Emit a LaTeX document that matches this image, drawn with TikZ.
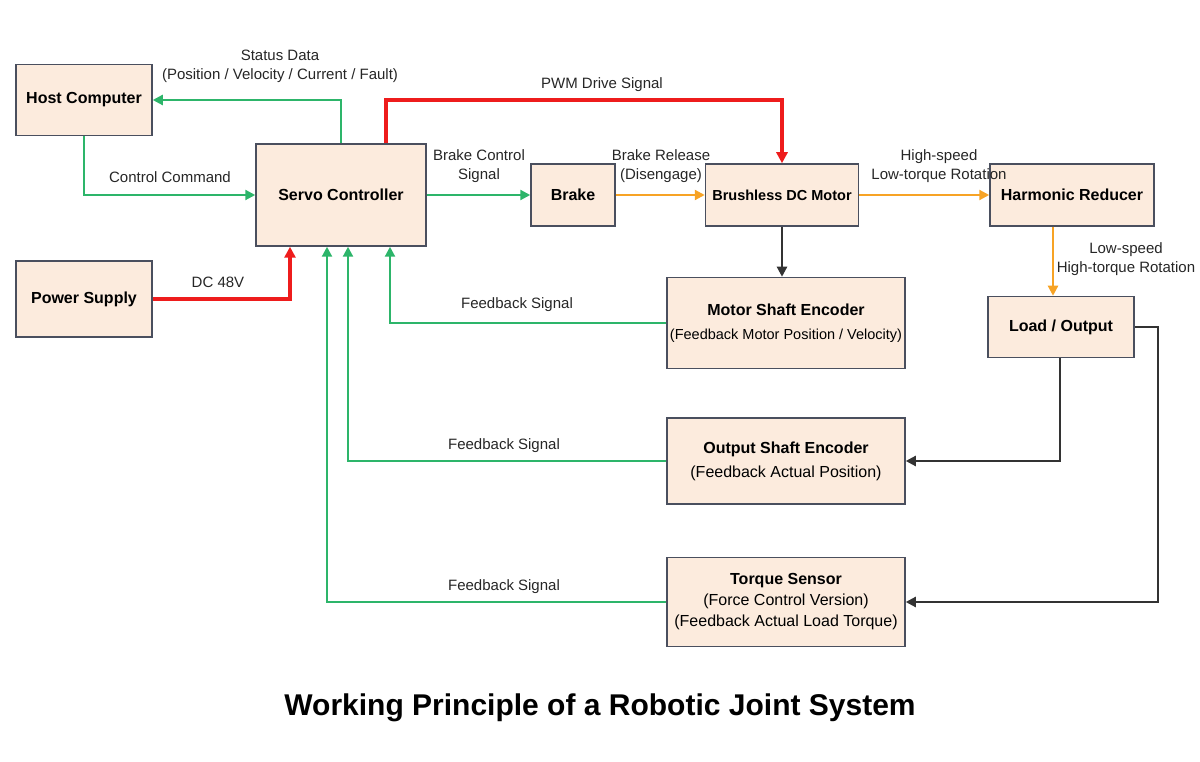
\documentclass[tikz,border=0pt]{standalone}
\usepackage{fontspec}
\setmainfont{Liberation Sans}
\usetikzlibrary{arrows.meta}
\definecolor{boxfill}{HTML}{FCEBDD}
\definecolor{boxline}{HTML}{4A4F5E}
\definecolor{sig}{HTML}{2DB56A}
\definecolor{pwr}{HTML}{EE1C1C}
\definecolor{mech}{HTML}{F7A325}
\definecolor{dark}{HTML}{333333}
\tikzset{
	block/.style={draw=boxline,line width=1.5pt,fill=boxfill,align=center,inner sep=0pt,font=\fontsize{16}{20}\selectfont},
	green line/.style={draw=sig,line width=2.2pt,-{Triangle[length=10pt,width=10pt]}},
	red line/.style={draw=pwr,line width=3.2pt,-{Triangle[length=11pt,width=11pt]}},
	orange line/.style={draw=mech,line width=2.2pt,-{Triangle[length=10pt,width=10pt]}},
	dark line/.style={draw=dark,line width=2.2pt,-{Triangle[length=10pt,width=10pt]}},
	lbl/.style={font=\fontsize{15}{19}\selectfont,align=center,text=black!85}
}
\begin{document}
\begin{tikzpicture}[x=1pt,y=-1pt]
	\useasboundingbox (0,0) rectangle (1200,762);

	% blocks
	\node[block,minimum width=136pt,minimum height=71pt] (host)  at (84,100)   {\textbf{Host Computer}};
	\node[block,minimum width=170pt,minimum height=102pt] (servo) at (341,195) {\textbf{Servo Controller}};
	\node[block,minimum width=136pt,minimum height=76pt] (power) at (84,299)   {\textbf{Power Supply}};
	\node[block,minimum width=84pt,minimum height=62pt]  (brake) at (573,195)  {\textbf{Brake}};
	\node[block,minimum width=153pt,minimum height=62pt,font=\fontsize{14.5}{18}\selectfont] (motor) at (782,195)  {\textbf{Brushless DC Motor}};
	\node[block,minimum width=164pt,minimum height=62pt] (reducer) at (1072,195) {\textbf{Harmonic Reducer}};
	\node[block,minimum width=238pt,minimum height=91pt] (mse)  at (786,323)   {\textbf{Motor Shaft Encoder}\\[4pt]{\fontsize{14.5}{18}\selectfont(Feedback Motor Position / Velocity)}};
	\node[block,minimum width=146pt,minimum height=61pt] (load) at (1061,327)  {\textbf{Load / Output}};
	\node[block,minimum width=238pt,minimum height=86pt] (ose)  at (786,461)   {\textbf{Output Shaft Encoder}\\[4pt](Feedback Actual Position)};
	\node[block,minimum width=238pt,minimum height=89pt] (torque) at (786,602) {\textbf{Torque Sensor}\\[1pt](Force Control Version)\\[1pt](Feedback Actual Load Torque)};

	% signals
	\draw[green line] (servo.north -| 341,0) |- (host.east);
	\node[lbl] (status) at (280,66) {Status Data\\(Position / Velocity / Current / Fault)};
	\draw[green line] (host.south) |- (servo.west);
	\node[lbl] (cmd) at (170,177) {Control Command};
	\draw[red line] (servo.north -| 386,0) |- (782,100) -- (motor.north);
	\node[lbl] (pwm) at (602,85) {PWM Drive Signal};
	\draw[red line] (power.east) -| (servo.south -| 290,0);
	\node[lbl] (dc) at (218,282) {DC 48V};
	\draw[green line] (servo.east) -- (brake.west);
	\node[lbl] (bcs) at (479,166) {Brake Control\\Signal};
	\draw[orange line] (brake.east) -- (motor.west);
	\node[lbl] (brl) at (661,166) {Brake Release\\(Disengage)};
	\draw[orange line] (motor.east) -- (reducer.west);
	\node[lbl] (hs) at (939,166) {High-speed\\Low-torque Rotation};
	\draw[dark line] (motor.south) -- (mse.north -| motor.south);
	\draw[orange line] (reducer.south -| 1053,0) -- (load.north -| 1053,0);
	\node[lbl] (ls) at (1126,259) {Low-speed\\High-torque Rotation};

	% feedback
	\draw[green line] (mse.west) -| (servo.south -| 390,0);
	\node[lbl] (fb1) at (517,305) {Feedback Signal};
	\draw[green line] (ose.west) -| (servo.south -| 348,0);
	\node[lbl] (fb2) at (504,446) {Feedback Signal};
	\draw[green line] (torque.west) -| (servo.south -| 327,0);
	\node[lbl] (fb3) at (504,587) {Feedback Signal};
	\draw[dark line] (load.south -| 1060,0) |- (ose.east);
	\draw[dark line] (load.east) -- (1158,327) |- (torque.east);

	\node[font=\fontsize{30}{36}\selectfont\bfseries] (title) at (600,708) {Working Principle of a Robotic Joint System};
\end{tikzpicture}
\end{document}
